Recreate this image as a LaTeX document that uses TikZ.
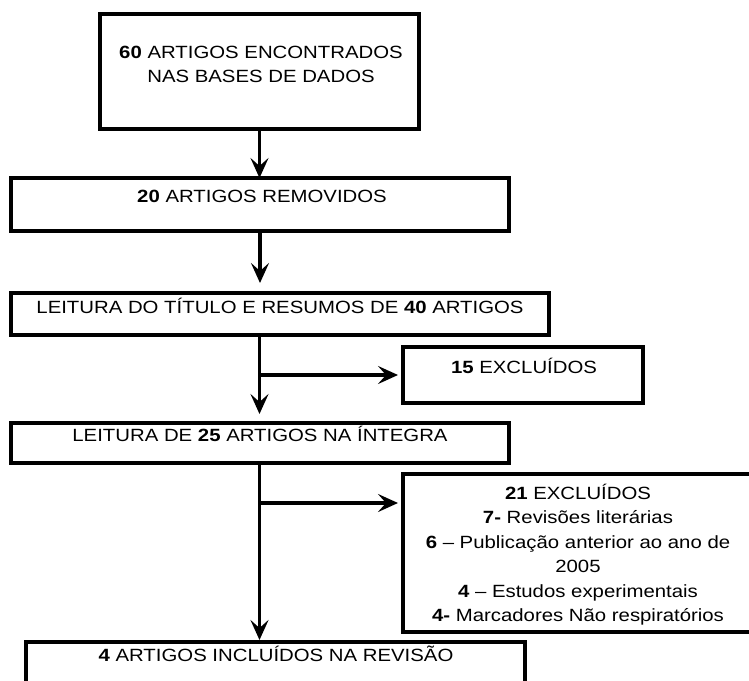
\documentclass[tikz,border=0pt]{standalone}
\usepackage{fontspec}
\setmainfont{Liberation Sans}[FakeStretch=1.15]
\usetikzlibrary{arrows.meta,calc}
\begin{document}
\begin{tikzpicture}[x=1pt,y=-1pt,
  box/.style={draw, line width=3.6pt, inner sep=0pt, outer sep=0pt},
  txt/.style={inner sep=0pt, align=center, font=\fontsize{17.7}{24.4}\selectfont, anchor=base},
  arr/.style={line width=3.2pt, -{Stealth[length=20pt,width=18pt,inset=8pt]}}]
\useasboundingbox (0,0) rectangle (749,680);
\fill[white] (0,0) rectangle (749,680);

\node[box, minimum width=319pt, minimum height=115pt] (b1) at (259.5,71.5) {};
\node[box, minimum width=498pt, minimum height=53pt] (b2) at (260,204.5) {};
\node[box, minimum width=538pt, minimum height=42pt] (b3) at (280,314) {};
\node[box, minimum width=240pt, minimum height=56pt] (b15) at (523,375) {};
\node[box, minimum width=498pt, minimum height=40pt] (b4) at (260,443) {};
\node[box, minimum width=350pt, minimum height=158pt] (b21) at (578,553) {};
\node[box, minimum width=499pt, minimum height=58pt] (b5) at (275.5,671) {};

\node[txt] (t1) at (261,82.5) {\textbf{60} ARTIGOS ENCONTRADOS\\NAS BASES DE DADOS};
\node[txt] (t2) at (262,202.5) {\textbf{20} ARTIGOS REMOVIDOS};
\node[txt] (t3) at (280,313.5) {LEITURA DO TÍTULO E RESUMOS DE \textbf{40} ARTIGOS};
\node[txt] (t15) at (524,373.5) {\textbf{15} EXCLUÍDOS};
\node[txt] (t4) at (260,441.5) {LEITURA DE \textbf{25} ARTIGOS NA ÍNTEGRA};
\node[txt] (t21) at (578,621.5) {\textbf{21} EXCLUÍDOS\\\textbf{7-} Revisões literárias\\\textbf{6} -- Publicação anterior ao ano de\\2005\\\textbf{4} -- Estudos experimentais\\\textbf{4-} Marcadores Não respiratórios};
\node[txt] (t5) at (276,661.5) {\textbf{4} ARTIGOS INCLUÍDOS NA REVISÃO};

\coordinate (sp) at (259.5,0);
\coordinate (br2) at (259.5,503);
\draw[arr] (b1.south) -- (b1.south |- b2.north);
\draw[arr, shorten >=10pt] (b2.south) -- (b2.south |- b3.north);
\draw[arr, shorten >=9pt] (sp |- b3.south) -- (sp |- b4.north);
\draw[arr, shorten >=5pt] (sp |- b15.west) -- (b15.west);
\draw[arr, shorten >=5pt] (br2) -- (br2 -| b21.west);
\draw[arr, shorten >=2pt] (sp |- b4.south) -- (sp |- b5.north);
\end{tikzpicture}
\end{document}
